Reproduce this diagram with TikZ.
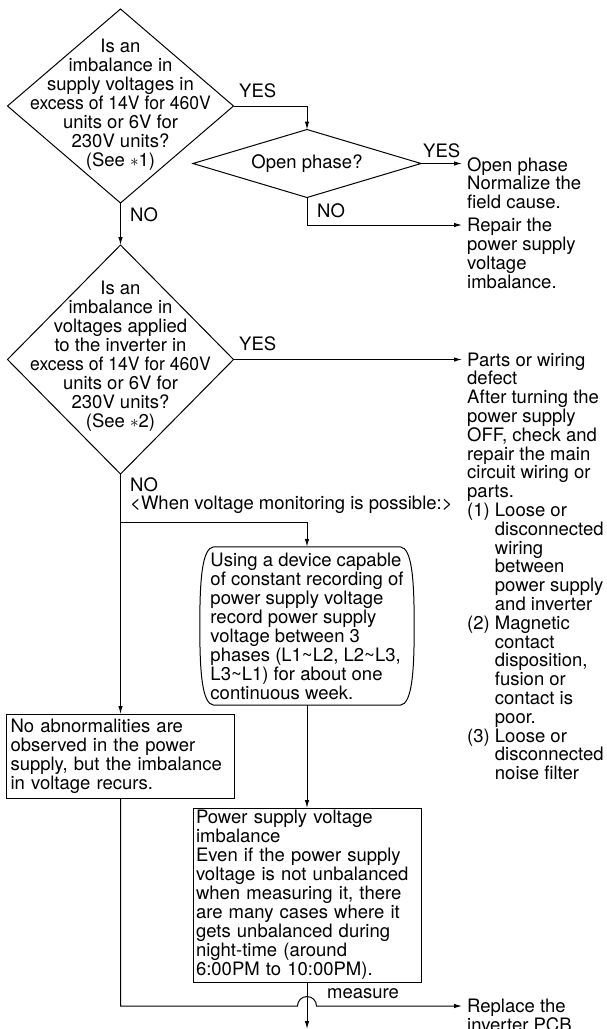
\documentclass[tikz,border=0pt]{standalone}
\usepackage{fontspec}
\setmainfont{TeX Gyre Heros}
\usetikzlibrary{shapes.geometric,arrows.meta,calc}

\newcommand{\hangin}{\phantom{(1)\ }}
\newcommand{\tight}[1]{\scalebox{0.95}[1]{#1}}

\begin{document}
\begin{tikzpicture}[
    x=1pt, y=-1pt,
    every node/.style={font=\fontsize{18.5}{19}\selectfont},
    decision/.style={
        draw,
        diamond,
        line width=1pt,
        inner sep=0pt,
        outer sep=0pt
    },
    qtext/.style={
        align=center,
        inner sep=0pt
    },
    box/.style={
        draw,
        rectangle,
        line width=1pt,
        align=left,
        inner ysep=0pt,
        outer sep=0pt
    },
    res/.style={
        align=left,
        anchor=north west,
        inner sep=0pt,
        font=\fontsize{18.5}{18.8}\selectfont
    },
    lab/.style={anchor=base west, inner sep=0pt},
    arr/.style={-{Latex[length=8pt,width=4.5pt]}, line width=1pt},
    plain/.style={line width=1pt}
]

    \useasboundingbox (0,0) rectangle (606,1029);

    % first check
    \node[decision, minimum width=226pt, minimum height=194pt] (chk1) at (120.5,106) {};
    \node[qtext] (chk1txt) at (120.5,105) {Is an\\imbalance in\\supply voltages in\\\tight{excess of 14V for 460V}\\units or 6V for\\230V units?\\(See $\ast$1)};

    % open phase
    \node[decision, minimum width=228pt, minimum height=68pt] (opn) at (307,163.5) {};
    \node[qtext] (opntxt) at (opn) {Open phase?};

    % second check
    \node[decision, minimum width=226pt, minimum height=229pt] (chk2) at (120.5,359.5) {};
    \node[qtext] (chk2txt) at (120.5,356) {Is an\\imbalance in\\voltages applied\\to the inverter in\\\tight{excess of 14V for 460V}\\units or 6V for\\230V units?\\(See $\ast$2)};

    % results on the right
    \node[res] (opres) at (467,157) {Open phase\\Normalize the\\field cause.};
    \node[res] (repres) at (467,218) {Repair the\\power supply\\voltage\\imbalance.};
    \node[res] (partres) at (467,352.5) {Parts or wiring\\defect\\After turning the\\power supply\\OFF, check and\\repair the main\\circuit wiring or\\parts.\\(1) Loose or\\\hangin disconnected\\\hangin wiring\\\hangin between\\\hangin power supply\\\hangin and inverter\\(2) Magnetic\\\hangin contact\\\hangin disposition,\\\hangin fusion or\\\hangin contact is\\\hangin poor.\\(3) Loose or\\\hangin disconnected\\\hangin noise filter};
    \node[res] (replres) at (467,999) {Replace the\\inverter PCB};

    % recording
    \node[align=left, inner sep=0pt, minimum width=214pt,
        minimum height=158pt] (rec) at (307,626) {Using a device capable\\of constant recording of\\power supply voltage\\record power supply\\voltage between 3\\phases (L1\textasciitilde L2, L2\textasciitilde L3,\\L3\textasciitilde L1) for about one\\continuous week.};
    \draw[plain] ($(rec.north west)+(14,0)$) -- ($(rec.north east)+(-14,0)$)
        .. controls ($(rec.north east)+(-2,1)$) and ($(rec.east)+(0,-45)$) .. (rec.east)
        .. controls ($(rec.east)+(0,45)$) and ($(rec.south east)+(-2,-1)$) .. ($(rec.south east)+(-14,0)$)
        -- ($(rec.south west)+(14,0)$)
        .. controls ($(rec.south west)+(2,-1)$) and ($(rec.west)+(0,45)$) .. (rec.west)
        .. controls ($(rec.west)+(0,-45)$) and ($(rec.north west)+(2,1)$) .. cycle;

    % observed / recorded results
    \node[box, text width=220pt, inner xsep=4pt, minimum height=84pt] (noabn) at (120.5,756) {No abnormalities are\\observed in the power\\supply, but the imbalance\\in voltage recurs.};
    \node[box, text width=222pt, inner xsep=3pt, minimum height=174pt] (pwr) at (307,895) {Power supply voltage\\imbalance\\Even if the power supply\\voltage is not unbalanced\\when measuring it, there\\are many cases where it\\gets unbalanced during\\night-time (around\\6:00PM to 10:00PM).};

    % labels
    \node[lab] (yes1) at (239,97) {YES};
    \node[lab] (no1) at (130,221.5) {NO};
    \node[lab] (yes2) at (423,157) {YES};
    \node[lab] (no2) at (317,217) {NO};
    \node[lab] (yes3) at (239,350) {YES};
    \node[lab] (no3) at (130,491) {NO};
    \node[lab] (when) at (130,509.5) {<When voltage monitoring is possible:>};
    \node[lab] (meas) at (327,998) {measure};

    \coordinate (split) at (120.5,522);
    \coordinate (hopL) at (297.5,1006);
    \coordinate (off) at (307,1029);

    % connectors
    \draw[arr] (chk1.south) -- (chk2.north);
    \draw[arr] (chk1.east) -| (opn.north);
    \draw[arr, shorten >=5pt] (opn.east) -- (opn.east -| opres.west);
    \draw[arr, shorten >=5pt] (opn.south) |- ([yshift=-7pt]repres.north west);
    \draw[arr, shorten >=5pt] (chk2.east) -- (chk2.east -| partres.west);
    \draw[arr] (chk2.south) -- (noabn.north);
    \draw[arr] (split) -| (rec.north);
    \draw[arr] (rec.south) -- (pwr.north);
    \draw[arr, shorten >=5pt] (noabn.south) |- (hopL)
        arc[start angle=180, end angle=0, radius=9.5pt]
        -- (hopL -| replres.west);
    \draw[arr] (pwr.south) -- (off);

\end{tikzpicture}
\end{document}
